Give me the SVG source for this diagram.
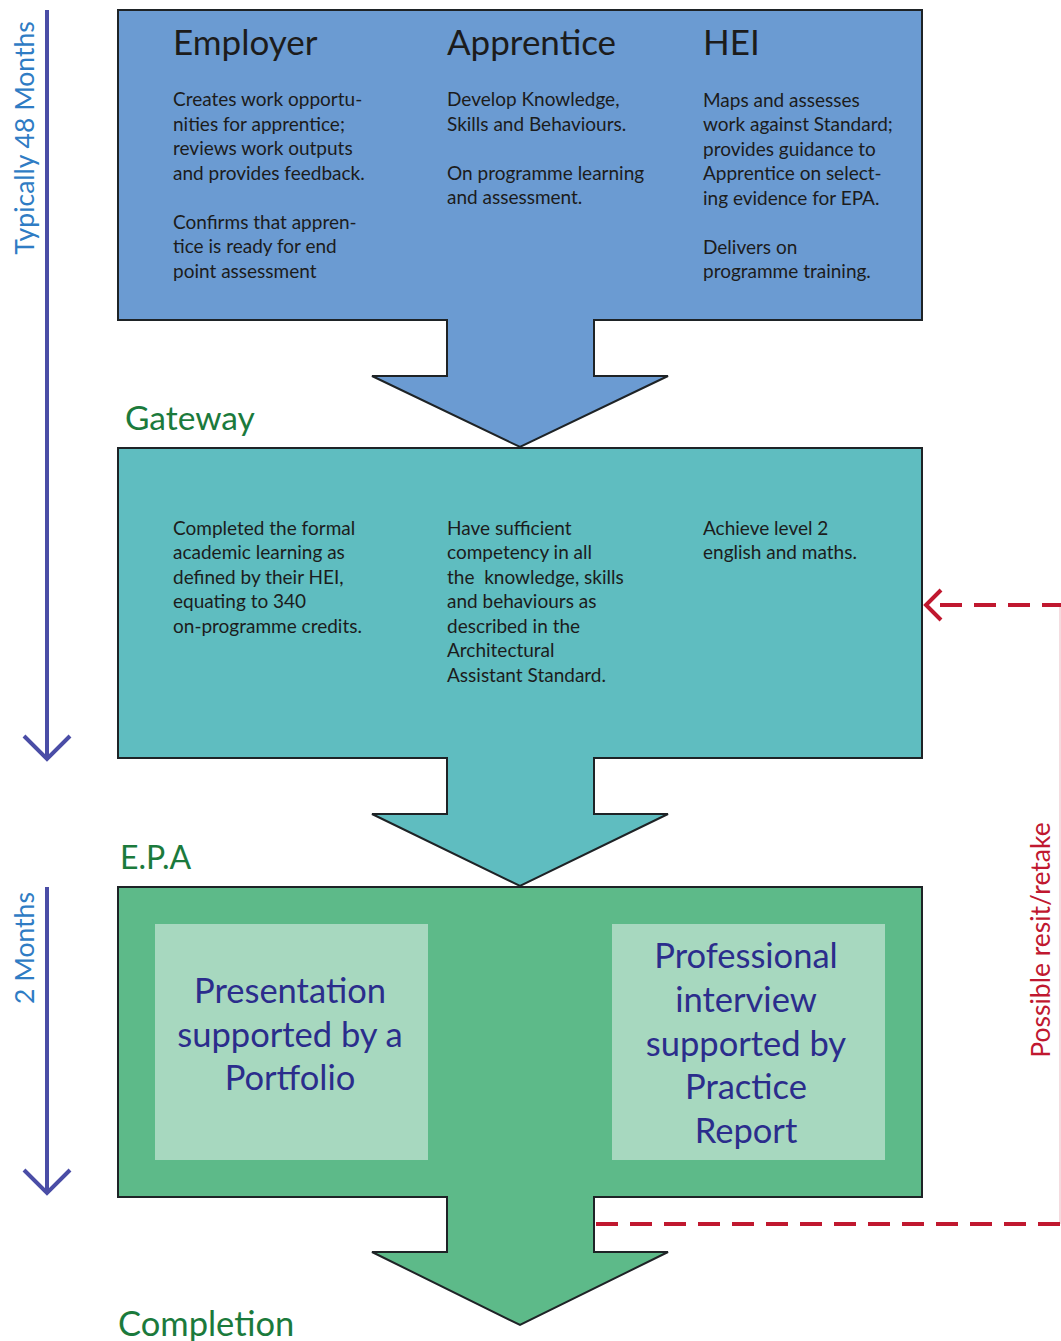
<svg xmlns="http://www.w3.org/2000/svg" width="1061" height="1341" viewBox="0 0 1061 1341">
<style>
.box{stroke:#1e2326;stroke-width:2}
.body{font-family:Lato,"Open Sans","Liberation Sans",sans-serif;font-size:19px;fill:#1c1c1c}
.head{font-family:Lato,"Open Sans","Liberation Sans",sans-serif;font-size:35px;fill:#1c1c1c}
.stage{font-family:Lato,"Open Sans","Liberation Sans",sans-serif;font-size:33.5px;fill:#1b7a3c}
.inner{font-family:Lato,"Open Sans","Liberation Sans",sans-serif;font-size:34.5px;fill:#2b2d8c;text-anchor:middle}
.time{font-family:Lato,"Open Sans","Liberation Sans",sans-serif;font-size:26.5px;fill:#2f7cc4}
.tl{stroke:#4a4da6;stroke-width:4;fill:none}
.red{stroke:#c0182f;stroke-width:4;fill:none;stroke-dasharray:22,12}
</style>
<rect width="1061" height="1341" fill="#ffffff"/>

<g id="timeline">
  <line class="tl" x1="47" y1="10" x2="47" y2="758"/>
  <polyline class="tl" points="24,736 47,759 70,736"/>
  <text class="time" transform="translate(34,138) rotate(-90)" text-anchor="middle">Typically 48 Months</text>
  <line class="tl" x1="47" y1="887" x2="47" y2="1193"/>
  <polyline class="tl" points="24,1170 47,1193 70,1170"/>
  <text class="time" transform="translate(34,948) rotate(-90)" text-anchor="middle">2 Months</text>
</g>

<g id="connectors">
  <polygon class="box" fill="#6b9bd2" points="447,320 594,320 594,376 668,376 520,447 372,376 447,376"/>
  <polygon class="box" fill="#5fbdc0" points="447,758 594,758 594,814 668,814 520,886 372,814 447,814"/>
  <polygon class="box" fill="#5dba89" points="447,1196 594,1196 594,1252 668,1252 520,1325 372,1252 447,1252"/>
  <line class="red" x1="596" y1="1224" x2="1061" y2="1224"/>
  <line x1="1060" y1="605" x2="1060" y2="1224" stroke="#c0182f" stroke-width="1.5" opacity="0.2"/>
  <line class="red" x1="930" y1="605" x2="1061" y2="605" stroke-dashoffset="-10"/>
  <polyline points="941,590 926,605 941,620" fill="none" stroke="#c0182f" stroke-width="4"/>
  <text transform="translate(1050,940) rotate(-90)" text-anchor="middle" style="font-family:Lato,'Open Sans','Liberation Sans',sans-serif;font-size:26.5px;fill:#c0182f">Possible resit/retake</text>
</g>

<g id="onprogramme">
  <rect class="box" x="118" y="10" width="804" height="310" fill="#6b9bd2"/>
  <rect x="448" y="318" width="145" height="4" fill="#6b9bd2"/>
  <text class="head" x="173" y="55">Employer</text>
  <text class="head" x="447" y="55">Apprentice</text>
  <text class="head" x="703" y="55">HEI</text>
  <text class="body" x="173" y="106">Creates work opportu-</text>
  <text class="body" x="173" y="131">nities for apprentice;</text>
  <text class="body" x="173" y="155">reviews work outputs</text>
  <text class="body" x="173" y="180">and provides feedback.</text>
  <text class="body" x="173" y="229">Confirms that appren-</text>
  <text class="body" x="173" y="253">tice is ready for end</text>
  <text class="body" x="173" y="278">point assessment</text>
  <text class="body" x="447" y="106">Develop Knowledge,</text>
  <text class="body" x="447" y="131">Skills and Behaviours.</text>
  <text class="body" x="447" y="180">On programme learning</text>
  <text class="body" x="447" y="204">and assessment.</text>
  <text class="body" x="703" y="107">Maps and assesses</text>
  <text class="body" x="703" y="131">work against Standard;</text>
  <text class="body" x="703" y="156">provides guidance to</text>
  <text class="body" x="703" y="180">Apprentice on select-</text>
  <text class="body" x="703" y="205">ing evidence for EPA.</text>
  <text class="body" x="703" y="254">Delivers on</text>
  <text class="body" x="703" y="278">programme training.</text>
</g>

<g id="gateway">
  <text class="stage" x="125" y="430">Gateway</text>
  <rect class="box" x="118" y="448" width="804" height="310" fill="#5fbdc0"/>
  <rect x="448" y="756" width="145" height="4" fill="#5fbdc0"/>
  <text class="body" x="173" y="535">Completed the formal</text>
  <text class="body" x="173" y="559">academic learning as</text>
  <text class="body" x="173" y="584">defined by their HEI,</text>
  <text class="body" x="173" y="608">equating to 340</text>
  <text class="body" x="173" y="633">on-programme credits.</text>
  <text class="body" x="447" y="535">Have sufficient</text>
  <text class="body" x="447" y="559">competency in all</text>
  <text class="body" x="447" y="584" xml:space="preserve">the  knowledge, skills</text>
  <text class="body" x="447" y="608">and behaviours as</text>
  <text class="body" x="447" y="633">described in the</text>
  <text class="body" x="447" y="657">Architectural</text>
  <text class="body" x="447" y="682">Assistant Standard.</text>
  <text class="body" x="703" y="535">Achieve level 2</text>
  <text class="body" x="703" y="559">english and maths.</text>
</g>

<g id="epa">
  <text class="stage" x="120" y="869" style="font-size:32px">E.P.A</text>
  <rect class="box" x="118" y="887" width="804" height="310" fill="#5dba89"/>
  <rect x="448" y="1195" width="145" height="4" fill="#5dba89"/>
  <rect x="155" y="924" width="273" height="236" fill="#a7d8bf"/>
  <rect x="612" y="924" width="273" height="236" fill="#a7d8bf"/>
  <text class="inner" x="290" y="1003">Presentation</text>
  <text class="inner" x="290" y="1047">supported by a</text>
  <text class="inner" x="290" y="1090">Portfolio</text>
  <text class="inner" x="746" y="968">Professional</text>
  <text class="inner" x="746" y="1012">interview</text>
  <text class="inner" x="746" y="1056">supported by</text>
  <text class="inner" x="746" y="1099">Practice</text>
  <text class="inner" x="746" y="1143">Report</text>
</g>

<g id="completion">
  <text class="stage" x="118" y="1336" style="font-size:34.5px">Completion</text>
</g>
</svg>
